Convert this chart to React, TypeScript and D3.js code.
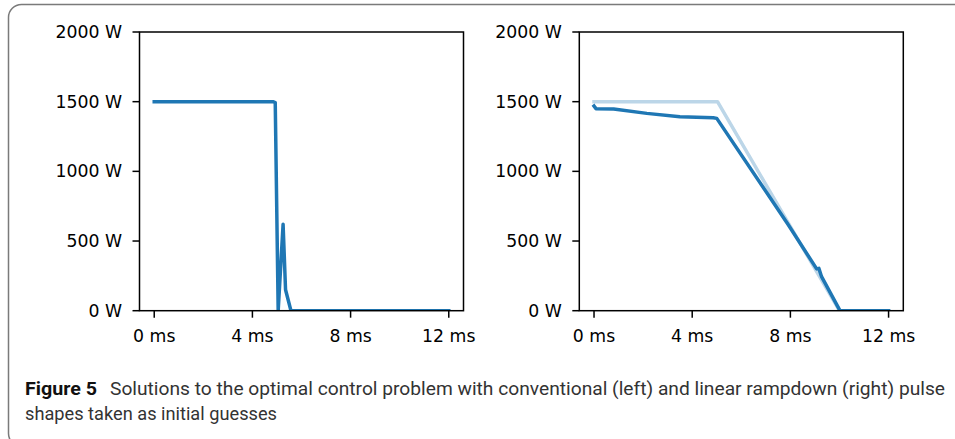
import React from "react";
import * as d3 from "d3";

// pulse power (W) vs time (ms)
const leftT = [0, 1, 2, 3, 4, 4.86, 4.93, 5.05, 5.25, 5.35, 5.57, 8, 12];
const leftP = [1500, 1500, 1500, 1500, 1500, 1499, 1494, 0, 620, 150, 0, 0, 0];

const guessT = [0, 5.03, 10.0, 12];
const guessP = [1500, 1500, 0, 0];

const solT = [0, 0.08, 0.8, 2.15, 3.5, 4.86, 5.0, 7.9, 9.07, 9.16, 9.27, 10.02, 12];
const solP = [1469, 1450, 1447, 1416, 1392, 1385, 1380, 620, 300, 304, 244, 0, 0];

const xTicks = [0, 4, 8, 12];
const yTicks = [0, 500, 1000, 1500, 2000];

const C0 = "#1f77b4";
const C0light = "#bcd6e8";

const zip = (t: number[], p: number[]) => t.map((v, i) => [v, p[i]] as [number, number]);

function Panel({ x0, series, id }: { x0: number; series: { pts: [number, number][]; color: string }[]; id: string }) {
  const w = 324;
  const top = 32;
  const bottom = 310.7;
  const x = d3.scaleLinear().domain([-0.6, 12.6]).range([x0, x0 + w]);
  const y = d3.scaleLinear().domain([0, 2000]).range([bottom, top]);
  const line = d3.line<[number, number]>().x(d => x(d[0])).y(d => y(d[1]));
  const font = "'DejaVu Sans', sans-serif";
  return (
    <g>
      <defs>
        <clipPath id={id}>
          <rect x={x0} y={top} width={w} height={bottom - top} />
        </clipPath>
      </defs>
      <g clipPath={`url(#${id})`}>
        {series.map((s, i) => (
          <path key={i} d={line(s.pts) || ""} fill="none" stroke={s.color} strokeWidth={3.5}
            strokeLinejoin="round" strokeLinecap="square" />
        ))}
      </g>
      <rect x={x0} y={top} width={w} height={bottom - top} fill="none" stroke="#000" strokeWidth={1.5} />
      {yTicks.map(v => (
        <g key={v}>
          <line x1={x0 - 7} x2={x0} y1={y(v)} y2={y(v)} stroke="#000" strokeWidth={1.5} />
          <text x={x0 - 17.5} y={y(v)} dominantBaseline="central" textAnchor="end"
            fontFamily={font} fontSize={17.3} fill="#000">{`${v} W`}</text>
        </g>
      ))}
      {xTicks.map(v => (
        <g key={v}>
          <line x1={x(v)} x2={x(v)} y1={bottom} y2={bottom + 7} stroke="#000" strokeWidth={1.5} />
          <text x={x(v)} y={342} textAnchor="middle" fontFamily={font} fontSize={17.3} fill="#000">{`${v} ms`}</text>
        </g>
      ))}
    </g>
  );
}

export default function App() {
  const capFont = "Roboto, 'Open Sans', sans-serif";
  return (
    <svg width={955} height={439} style={{ position: "absolute", left: 0, top: 0, background: "#fff" }}>
      <rect x={8.5} y={4.5} width={1000} height={442} rx={13} fill="#fff" stroke="#7a7a7a" strokeWidth={1.5} />
      <Panel x0={139.5} id="clipL" series={[{ pts: zip(leftT, leftP), color: C0 }]} />
      <Panel x0={579.3} id="clipR" series={[
        { pts: zip(guessT, guessP), color: C0light },
        { pts: zip(solT, solP), color: C0 },
      ]} />
      <text x={25} y={395} fontFamily={capFont} fontSize={17.5} fontWeight="bold" fill="#111"
        textLength={72} lengthAdjust="spacingAndGlyphs">Figure 5</text>
      <text x={110} y={395} fontFamily={capFont} fontSize={17.5} fill="#333"
        textLength={835} lengthAdjust="spacingAndGlyphs">
        Solutions to the optimal control problem with conventional (left) and linear rampdown (right) pulse
      </text>
      <text x={25} y={420} fontFamily={capFont} fontSize={17.5} fill="#333"
        textLength={252} lengthAdjust="spacingAndGlyphs">shapes taken as initial guesses</text>
    </svg>
  );
}
